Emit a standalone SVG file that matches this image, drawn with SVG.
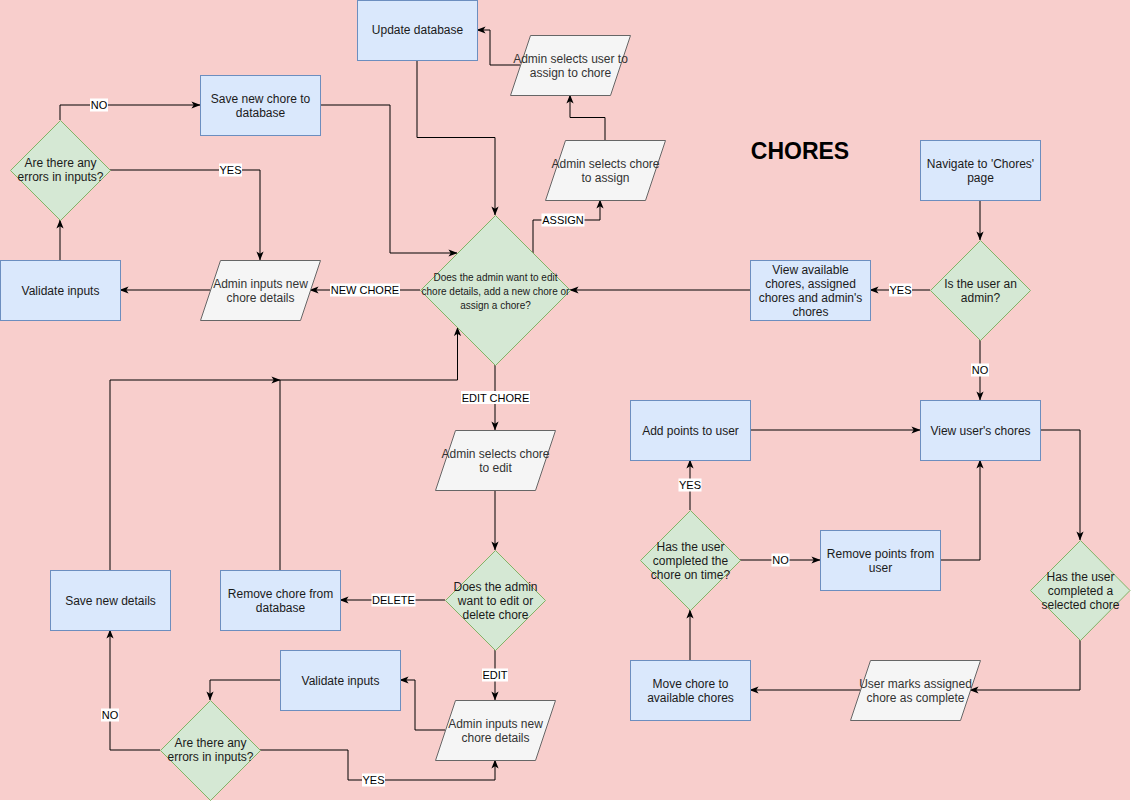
<svg xmlns="http://www.w3.org/2000/svg" width="1131" height="802" viewBox="0 0 1131 802">
<style>
.bg{fill:#f8cecc}
.r{fill:#dae8fc;stroke:#6c8ebf;stroke-width:1}
.d{fill:#d5e8d4;stroke:#82b366;stroke-width:1}
.p{fill:#f5f5f5;stroke:#666666;stroke-width:1}
text{font-family:"Liberation Sans",Arial,Helvetica,sans-serif;font-size:12px;text-anchor:middle;fill:#1a1a1a}
.pt{fill:#333333}
.sm{font-size:10px}
.e{fill:none;stroke:#000;stroke-width:1}
.ea{fill:none;stroke:#000;stroke-width:1;marker-end:url(#arr)}
.lb{fill:#ffffff}
.lt{font-size:11px;fill:#000}
.title{font-size:23px;font-weight:bold;fill:#000}
</style>
<defs>
<marker id="arr" viewBox="0 0 10 10" refX="9.5" refY="5" markerWidth="9" markerHeight="9" markerUnits="userSpaceOnUse" orient="auto">
<path d="M0,1 L10,5 L0,9 L2.5,5 z" fill="#000"/>
</marker>
</defs>
<rect class="bg" x="0" y="0" width="1130" height="800"/>
<text class="title" x="800" y="159">CHORES</text>

<g id="connectors">
<path class="ea" d="M980,200 L980,240"/>
<path class="ea" d="M930,290 L870,290"/>
<path class="ea" d="M980,340 L980,400"/>
<path class="ea" d="M750,290 L570,290"/>
<path class="ea" d="M420,290 L310,290"/>
<path class="ea" d="M210,290 L120,290"/>
<path class="ea" d="M60,260 L60,220"/>
<path class="ea" d="M60,120 L60,105 L200,105"/>
<path class="ea" d="M110,170 L260,170 L260,260"/>
<path class="ea" d="M320,105 L390,105 L390,253 L457,253"/>
<path class="ea" d="M417,60 L417,137.5 L495,137.5 L495,215"/>
<path class="ea" d="M533,253 L533,220 L600,220 L600,200"/>
<path class="ea" d="M605,140 L605,117.5 L570,117.5 L570,95"/>
<path class="ea" d="M520,65 L490,65 L490,30 L477,30"/>
<path class="ea" d="M495,365 L495,430"/>
<path class="ea" d="M495,490 L495,550"/>
<path class="ea" d="M445,600 L340,600"/>
<path class="ea" d="M495,650 L495,700"/>
<path class="ea" d="M445,730 L415,730 L415,680 L400,680"/>
<path class="ea" d="M280,680 L210,680 L210,700"/>
<path class="ea" d="M160,750 L110,750 L110,630"/>
<path class="ea" d="M260,750 L348,750 L348,780 L495,780 L495,760"/>
<path class="ea" d="M110,570 L110,380 L280,380"/>
<path class="ea" d="M280,570 L280,380 L457.5,380 L457.5,327.5"/>
<path class="ea" d="M690,660 L690,610"/>
<path class="ea" d="M690,510 L690,460"/>
<path class="ea" d="M740,560 L820,560"/>
<path class="ea" d="M940,560 L980,560 L980,460"/>
<path class="ea" d="M750,430 L920,430"/>
<path class="ea" d="M1040,430 L1080,430 L1080,540"/>
<path class="ea" d="M1080,640 L1080,690 L970,690"/>
<path class="ea" d="M860,690 L750,690"/>
<!-- labels -->
<rect class="lb" x="889" y="283.5" width="23" height="13"/><text class="lt" x="900.5" y="294">YES</text>
<rect class="lb" x="971" y="363.5" width="18" height="13"/><text class="lt" x="980" y="374">NO</text>
<rect class="lb" x="330" y="283.5" width="70" height="13"/><text class="lt" x="365" y="294">NEW CHORE</text>
<rect class="lb" x="90" y="98.5" width="18" height="13"/><text class="lt" x="99" y="109">NO</text>
<rect class="lb" x="219" y="163.5" width="23" height="13"/><text class="lt" x="230.5" y="174">YES</text>
<rect class="lb" x="541.5" y="213.5" width="43" height="13"/><text class="lt" x="563" y="224">ASSIGN</text>
<rect class="lb" x="461" y="391" width="69" height="13"/><text class="lt" x="495.5" y="401.5">EDIT CHORE</text>
<rect class="lb" x="371.5" y="593.5" width="44" height="13"/><text class="lt" x="393.5" y="604">DELETE</text>
<rect class="lb" x="482" y="668.5" width="26" height="13"/><text class="lt" x="495" y="679">EDIT</text>
<rect class="lb" x="101" y="708.5" width="18" height="13"/><text class="lt" x="110" y="719">NO</text>
<rect class="lb" x="362" y="773.5" width="23" height="13"/><text class="lt" x="373.5" y="784">YES</text>
<rect class="lb" x="678.5" y="478.5" width="23" height="13"/><text class="lt" x="690" y="489">YES</text>
<rect class="lb" x="771.5" y="553.5" width="18" height="13"/><text class="lt" x="780.5" y="564">NO</text>
</g>

<g id="update-db"><rect class="r" x="357.5" y="0.5" width="120" height="60"/><text x="417.5" y="34">Update database</text></g>
<g id="save-new-chore"><rect class="r" x="200.5" y="75.5" width="120" height="60"/><text x="260.5" y="103">Save new chore to</text><text x="260.5" y="117">database</text></g>
<g id="errors-top"><polygon class="d" points="60.5,120.5 110.5,170.5 60.5,220.5 10.5,170.5"/><text x="60.5" y="167">Are there any</text><text x="60.5" y="181">errors in inputs?</text></g>
<g id="validate-top"><rect class="r" x="0.5" y="260.5" width="120" height="60"/><text x="60.5" y="295">Validate inputs</text></g>
<g id="admin-inputs-new"><polygon class="p" points="220.5,260.5 320.5,260.5 300.5,320.5 200.5,320.5"/><text class="pt" x="260.5" y="288">Admin inputs new</text><text class="pt" x="260.5" y="302">chore details</text></g>
<g id="select-user"><polygon class="p" points="530.5,35.5 630.5,35.5 610.5,95.5 510.5,95.5"/><text class="pt" x="570.5" y="63">Admin selects user to</text><text class="pt" x="570.5" y="77">assign to chore</text></g>
<g id="select-chore-assign"><polygon class="p" points="565.5,140.5 665.5,140.5 645.5,200.5 545.5,200.5"/><text class="pt" x="605.5" y="168">Admin selects chore</text><text class="pt" x="605.5" y="182">to assign</text></g>
<g id="main-decision"><polygon class="d" points="495.5,215.5 570.5,290.5 495.5,365.5 420.5,290.5"/><text class="sm" x="495.5" y="281">Does the admin want to edit</text><text class="sm" x="495.5" y="295">chore details, add a new chore or</text><text class="sm" x="495.5" y="309">assign a chore?</text></g>
<g id="navigate"><rect class="r" x="920.5" y="140.5" width="120" height="60"/><text x="980.5" y="168">Navigate to 'Chores'</text><text x="980.5" y="182">page</text></g>
<g id="is-admin"><polygon class="d" points="980.5,240.5 1030.5,290.5 980.5,340.5 930.5,290.5"/><text x="980.5" y="288">Is the user an</text><text x="980.5" y="302">admin?</text></g>
<g id="view-available"><rect class="r" x="750.5" y="260.5" width="120" height="60"/><text x="810.5" y="274">View available</text><text x="810.5" y="288">chores, assigned</text><text x="810.5" y="302">chores and admin's</text><text x="810.5" y="316">chores</text></g>
<g id="view-user-chores"><rect class="r" x="920.5" y="400.5" width="120" height="60"/><text x="980.5" y="435">View user's chores</text></g>
<g id="add-points"><rect class="r" x="630.5" y="400.5" width="120" height="60"/><text x="690.5" y="435">Add points to user</text></g>
<g id="on-time"><polygon class="d" points="690.5,510.5 740.5,560.5 690.5,610.5 640.5,560.5"/><text x="690.5" y="551">Has the user</text><text x="690.5" y="565">completed the</text><text x="690.5" y="579">chore on time?</text></g>
<g id="remove-points"><rect class="r" x="820.5" y="530.5" width="120" height="60"/><text x="880.5" y="558">Remove points from</text><text x="880.5" y="572">user</text></g>
<g id="completed-selected"><polygon class="d" points="1080.5,540.5 1130,590.5 1080.5,640.5 1030.5,590.5"/><text x="1080.5" y="581">Has the user</text><text x="1080.5" y="595">completed a</text><text x="1080.5" y="609">selected chore</text></g>
<g id="user-marks"><polygon class="p" points="870.5,660.5 980.5,660.5 960.5,720.5 850.5,720.5"/><text class="pt" x="915.5" y="688">User marks assigned</text><text class="pt" x="915.5" y="702">chore as complete</text></g>
<g id="move-chore"><rect class="r" x="630.5" y="660.5" width="120" height="60"/><text x="690.5" y="688">Move chore to</text><text x="690.5" y="702">available chores</text></g>
<g id="select-chore-edit"><polygon class="p" points="455.5,430.5 555.5,430.5 535.5,490.5 435.5,490.5"/><text class="pt" x="495.5" y="458">Admin selects chore</text><text class="pt" x="495.5" y="472">to edit</text></g>
<g id="edit-or-delete"><polygon class="d" points="495.5,550.5 545.5,600.5 495.5,650.5 445.5,600.5"/><text x="495.5" y="591">Does the admin</text><text x="495.5" y="605">want to edit or</text><text x="495.5" y="619">delete chore</text></g>
<g id="remove-chore"><rect class="r" x="220.5" y="570.5" width="120" height="60"/><text x="280.5" y="598">Remove chore from</text><text x="280.5" y="612">database</text></g>
<g id="save-new-details"><rect class="r" x="50.5" y="570.5" width="120" height="60"/><text x="110.5" y="605">Save new details</text></g>
<g id="validate-bottom"><rect class="r" x="280.5" y="650.5" width="120" height="60"/><text x="340.5" y="685">Validate inputs</text></g>
<g id="admin-inputs-edit"><polygon class="p" points="455.5,700.5 555.5,700.5 535.5,760.5 435.5,760.5"/><text class="pt" x="495.5" y="728">Admin inputs new</text><text class="pt" x="495.5" y="742">chore details</text></g>
<g id="errors-bottom"><polygon class="d" points="210.5,700.5 260.5,750.5 210.5,800.5 160.5,750.5"/><text x="210.5" y="747">Are there any</text><text x="210.5" y="761">errors in inputs?</text></g>
</svg>
